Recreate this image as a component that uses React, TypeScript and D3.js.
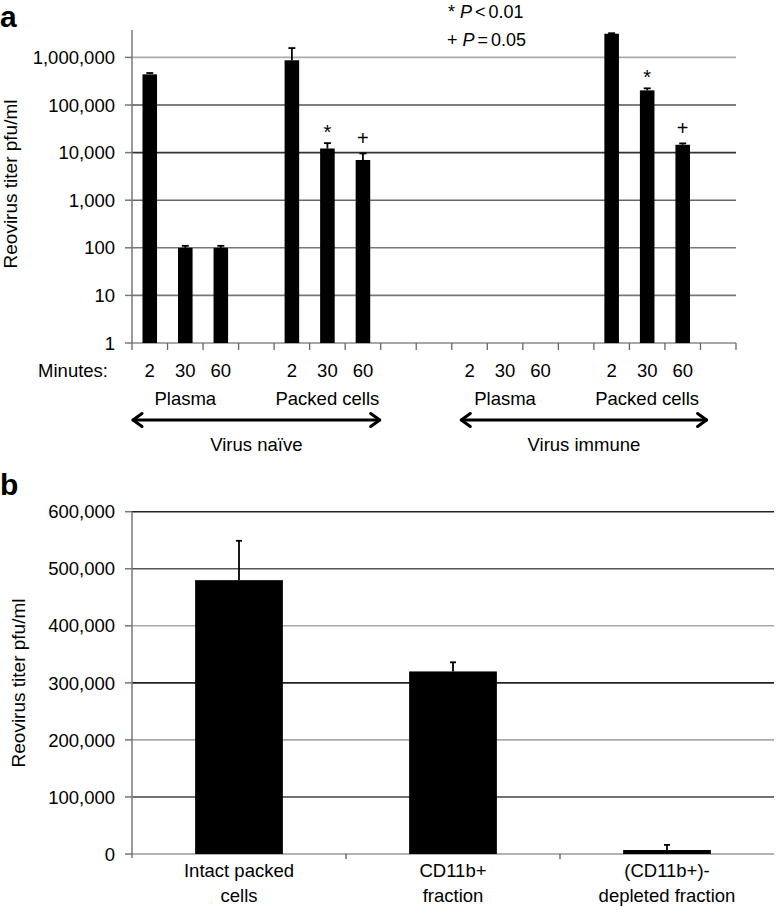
import React from 'react';
import * as d3 from 'd3';

// ---------- Panel a data ----------
const slots = ['n-p-2', 'n-p-30', 'n-p-60', 'gap1', 'n-c-2', 'n-c-30', 'n-c-60', 'gap2', 'gap3',
  'i-p-2', 'i-p-30', 'i-p-60', 'gap4', 'i-c-2', 'i-c-30', 'i-c-60', 'gap5'];
const slotMinutes = ['2', '30', '60', '', '2', '30', '60', '', '', '2', '30', '60', '', '2', '30', '60', ''];
const aValues: (number | null)[] = [440000, 100, 100, null, 870000, 12200, 7000, null, null,
  null, null, null, null, 3140000, 203000, 14600, null];
const aErrTop: (number | null)[] = [470000, 110, 110, null, 1570000, 15800, 9600, null, null,
  null, null, null, null, 3220000, 224000, 15600, null];
const aMarks = ['', '', '', '', '', '*', '+', '', '', '', '', '', '', '', '*', '+', ''];
const aTicks = [1, 10, 100, 1000, 10000, 100000, 1000000];
const groupLabels = [
  { text: 'Plasma', slot: 'n-p-30' },
  { text: 'Packed cells', slot: 'n-c-30' },
  { text: 'Plasma', slot: 'i-p-30' },
  { text: 'Packed cells', slot: 'i-c-30' },
];
const arrowLabels = [
  { text: 'Virus naïve', from: 0, to: 7 },
  { text: 'Virus immune', from: 9.24, to: 16.2 },
];

// ---------- Panel b data ----------
const bCats = ['Intact packed cells', 'CD11b+ fraction', '(CD11b+)-depleted fraction'];
const bCatLines = [['Intact packed', 'cells'], ['CD11b+', 'fraction'], ['(CD11b+)-', 'depleted fraction']];
const bValues = [480000, 320000, 7000];
const bErrTop = [549000, 336000, 16000];
const bTicks = [0, 100000, 200000, 300000, 400000, 500000, 600000];

const FONT = 'Liberation Sans, Arial, Helvetica, sans-serif';
const fmt = d3.format(',');

const aGridColors = ['#8a8a8a', '#777', '#777', '#666', '#333', '#555', '#aaa'];
const bGridColors = ['#999', '#444', '#aaa', '#222', '#aaa', '#555', '#222'];

function Arrow({ x1, x2, y }: { x1: number; x2: number; y: number }) {
  const h = 10, s = 6.5;
  return (
    <g stroke="#000" strokeWidth={3} fill="none" strokeLinecap="round" strokeLinejoin="round">
      <line x1={x1 + 1} x2={x2 - 1} y1={y} y2={y} />
      <path d={`M${x1 + h},${y - s} L${x1 + 1},${y} L${x1 + h},${y + s}`} />
      <path d={`M${x2 - h},${y - s} L${x2 - 1},${y} L${x2 - h},${y + s}`} />
    </g>
  );
}

export default function App() {
  // Panel a scales
  const axL = 132, axR = 736;
  const xA = d3.scaleBand<string>().domain(slots).range([axL, axR]).paddingInner(0.59).paddingOuter(0.295);
  const yA = d3.scaleLog().domain([1, 1000000]).range([343, 57.4]);
  const aTop = 30;
  const step = xA.step();

  // Panel b scales
  const bR = 774;
  const xB = d3.scaleBand<string>().domain(bCats).range([axL, bR]).paddingInner(0.59).paddingOuter(0.295);
  const yB = d3.scaleLinear().domain([0, 600000]).range([854, 511.7]);

  return (
    <svg width={776} height={912} style={{ position: 'absolute', left: 0, top: 0, background: '#fff' }}
      fontFamily={FONT}>
      <rect x={0} y={0} width={776} height={912} fill="#fff" />
      {/* ===== Panel a ===== */}
      <text x={0} y={27} fontSize={30} fontWeight="bold">a</text>
      {aTicks.map((t, i) => (
        <g key={'ga' + t}>
          {i > 0 && <line x1={axL} x2={axR} y1={yA(t)} y2={yA(t)} stroke={aGridColors[i]} strokeWidth={1.6} />}
          <line x1={axL - 7} x2={axL} y1={yA(t)} y2={yA(t)} stroke="#777" strokeWidth={1.5} />
          <text x={115} y={yA(t)} dy="0.36em" fontSize={18.5} textAnchor="end">{fmt(t)}</text>
        </g>
      ))}
      {/* x axis */}
      <line x1={axL} x2={axR} y1={yA(1)} y2={yA(1)} stroke="#8a8a8a" strokeWidth={1.6} />
      {d3.range(slots.length + 1).map(k => (
        <line key={'xt' + k} x1={axL + k * step} x2={axL + k * step} y1={yA(1)} y2={yA(1) + 7}
          stroke="#666" strokeWidth={1.3} />
      ))}
      <line x1={axL} x2={axL} y1={aTop} y2={yA(1)} stroke="#777" strokeWidth={1.5} />
      {/* bars */}
      {slots.map((s, i) => {
        const v = aValues[i];
        if (v == null) return null;
        const x = xA(s)!;
        const w = xA.bandwidth();
        const cx = x + w / 2;
        const e = aErrTop[i]!;
        return (
          <g key={'ba' + s}>
            <rect x={x} y={yA(v)} width={w} height={yA(1) - yA(v)} fill="#000" />
            <line x1={cx} x2={cx} y1={yA(v)} y2={yA(e)} stroke="#000" strokeWidth={1.8} />
            <line x1={cx - 3.5} x2={cx + 3.5} y1={yA(e)} y2={yA(e)} stroke="#000" strokeWidth={1.8} />
            {aMarks[i] === '*' && <text x={cx} y={yA(e) - 4} fontSize={20} textAnchor="middle">*</text>}
            {aMarks[i] === '+' && <text x={cx} y={yA(e) - 8} fontSize={20} textAnchor="middle">+</text>}
          </g>
        );
      })}
      {/* y label */}
      <text transform="translate(16.5,184) rotate(-90)" fontSize={19} textAnchor="middle">Reovirus titer pfu/ml</text>
      {/* legend */}
      <text x={448} y={18} fontSize={18}>
        <tspan>*</tspan><tspan dx={5} fontStyle="italic">P</tspan><tspan dx={3}>&lt;</tspan><tspan dx={3}>0.01</tspan>
      </text>
      <text x={447} y={46} fontSize={18}>
        <tspan>+</tspan><tspan dx={5} fontStyle="italic">P</tspan><tspan dx={3}>=</tspan><tspan dx={3}>0.05</tspan>
      </text>
      {/* category labels */}
      <text x={108} y={376.5} fontSize={18.5} textAnchor="end">Minutes:</text>
      {slots.map((s, i) => slotMinutes[i] ? (
        <text key={'m' + s} x={xA(s)! + xA.bandwidth() / 2} y={376.5} fontSize={18.5} textAnchor="middle">{slotMinutes[i]}</text>
      ) : null)}
      {groupLabels.map((g, i) => (
        <text key={'gl' + i} x={xA(g.slot)! + xA.bandwidth() / 2} y={405} fontSize={18.5} textAnchor="middle">{g.text}</text>
      ))}
      {arrowLabels.map((a, i) => {
        const x1 = axL + a.from * step, x2 = axL + a.to * step;
        return (
          <g key={'ar' + i}>
            <Arrow x1={x1} x2={x2} y={420} />
            <text x={(x1 + x2) / 2} y={451} fontSize={18.5} textAnchor="middle">{a.text}</text>
          </g>
        );
      })}

      {/* ===== Panel b ===== */}
      <text x={0} y={495} fontSize={30} fontWeight="bold">b</text>
      {bTicks.map((t, i) => (
        <g key={'gb' + t}>
          <line x1={axL} x2={bR} y1={yB(t)} y2={yB(t)} stroke={bGridColors[i]} strokeWidth={1.6} />
          <line x1={axL - 7} x2={axL} y1={yB(t)} y2={yB(t)} stroke="#777" strokeWidth={1.5} />
          <text x={115} y={yB(t)} dy="0.36em" fontSize={18.5} textAnchor="end">{fmt(t)}</text>
        </g>
      ))}
      <line x1={axL} x2={axL} y1={yB(600000)} y2={yB(0) + 4} stroke="#777" strokeWidth={1.5} />
      {d3.range(1, bCats.length).map(k => (
        <line key={'bt' + k} x1={axL + k * xB.step()} x2={axL + k * xB.step()} y1={yB(0)} y2={yB(0) + 5}
          stroke="#555" strokeWidth={1.3} />
      ))}
      {bCats.map((c, i) => {
        const x = xB(c)!;
        const w = xB.bandwidth();
        const cx = x + w / 2;
        return (
          <g key={'bb' + i}>
            <line x1={cx} x2={cx} y1={yB(bValues[i])} y2={yB(bErrTop[i])} stroke="#000" strokeWidth={1.8} />
            <line x1={cx - 3} x2={cx + 3} y1={yB(bErrTop[i])} y2={yB(bErrTop[i])} stroke="#000" strokeWidth={1.8} />
            <rect x={x} y={yB(bValues[i])} width={w} height={yB(0) - yB(bValues[i])} fill="#000" />
            {bCatLines[i].map((ln, j) => (
              <text key={j} x={cx} y={877 + j * 25} fontSize={18.5} textAnchor="middle">{ln}</text>
            ))}
          </g>
        );
      })}
      <text transform="translate(25.3,683) rotate(-90)" fontSize={19} textAnchor="middle">Reovirus titer pfu/ml</text>
    </svg>
  );
}
